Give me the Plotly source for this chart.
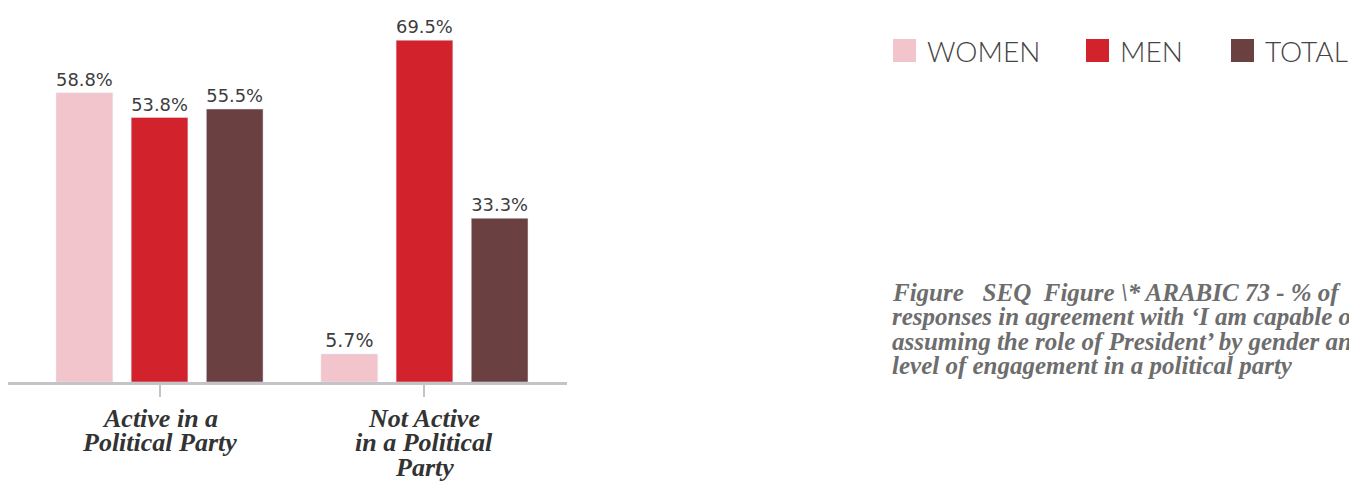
import plotly.graph_objects as go

# Data
categories = ["Active in a Political Party", "Not Active in a Political Party"]
category_lines = [["Active in a", "Political Party"], ["Not Active", "in a Political", "Party"]]
series_names = ["WOMEN", "MEN", "TOTAL"]
women = [58.8, 5.7]
men = [53.8, 69.5]
total = [55.5, 33.3]
colors = ["#f2c4cc", "#d2222c", "#6a4041"]

caption_lines = [
    "Figure&nbsp;&nbsp; SEQ&nbsp; Figure \\* ARABIC 73 - % of",
    "responses in agreement with ‘I am capable of",
    "assuming the role of President’ by gender and",
    "level of engagement in a political party",
]

# page body has an 8px margin, so screen px = figure px + 8
OFF = 8
W, H = 1357, 485
ml, mt = 0, 12
pw = 559 - ml
ph = 374 - mt
mr, mb = W - ml - pw, H - mt - ph


def px_x(p):
    # screen x -> paper x
    return (p - OFF - ml) / pw


def px_y(p):
    # screen y -> paper y
    return (mt + ph - (p - OFF)) / ph


fig = go.Figure()
for name, vals, col in zip(series_names, [women, men, total], colors):
    fig.add_trace(go.Bar(
        x=categories, y=vals, name=name, marker_color=col,
        text=[f"{v:.1f}%" for v in vals], textposition="outside",
        textfont=dict(family="DejaVu Sans", size=19, color="#3d3d3d"),
        cliponaxis=False, showlegend=False,
    ))

fig.update_layout(
    width=W, height=H,
    margin=dict(l=ml, r=mr, t=mt, b=mb, autoexpand=False),
    plot_bgcolor="white", paper_bgcolor="white",
    barmode="group", bargap=0.149, bargroupgap=0.245,
    showlegend=False,
)
fig.update_xaxes(
    range=[-0.572, 1.538], showline=True, linecolor="#c4c4c8", linewidth=3,
    ticks="outside", ticklen=12, tickwidth=2, tickcolor="#c4c4c8",
    showticklabels=False, automargin=False, showgrid=False,
)
fig.update_yaxes(range=[0, 73.6], visible=False, showgrid=False, automargin=False)

# category labels, one line each for tight line spacing
for cat, lines in zip(categories, category_lines):
    for i, line in enumerate(lines):
        fig.add_annotation(xref="x", yref="paper", x=cat, y=px_y(418 + 24.5 * i),
                           xanchor="center", yanchor="middle", showarrow=False,
                           text=line,
                           font=dict(family="Liberation Serif", size=26, color="#333333",
                                     weight="bold", style="italic"))

# custom legend: big squares + labels
legend_x = [893, 1086, 1231]
for name, col, lx in zip(series_names, colors, legend_x):
    fig.add_shape(type="rect", xref="paper", yref="paper",
                  x0=px_x(lx), x1=px_x(lx + 23), y0=px_y(62), y1=px_y(39),
                  fillcolor=col, line=dict(width=0))
    fig.add_annotation(xref="paper", yref="paper", x=px_x(lx + 32), y=px_y(51),
                       xanchor="left", yanchor="middle", showarrow=False,
                       text=name,
                       font=dict(family="Lato", size=28, color="#444444", weight=300))

# caption lines
for i, line in enumerate(caption_lines):
    fig.add_annotation(xref="paper", yref="paper", x=px_x(890), y=px_y(292 + 24.5 * i),
                       xanchor="left", yanchor="middle", showarrow=False,
                       text=line,
                       font=dict(family="Liberation Serif", size=25, color="#6d6d6d",
                                 weight="bold", style="italic"))

fig.write_html("out.html")
